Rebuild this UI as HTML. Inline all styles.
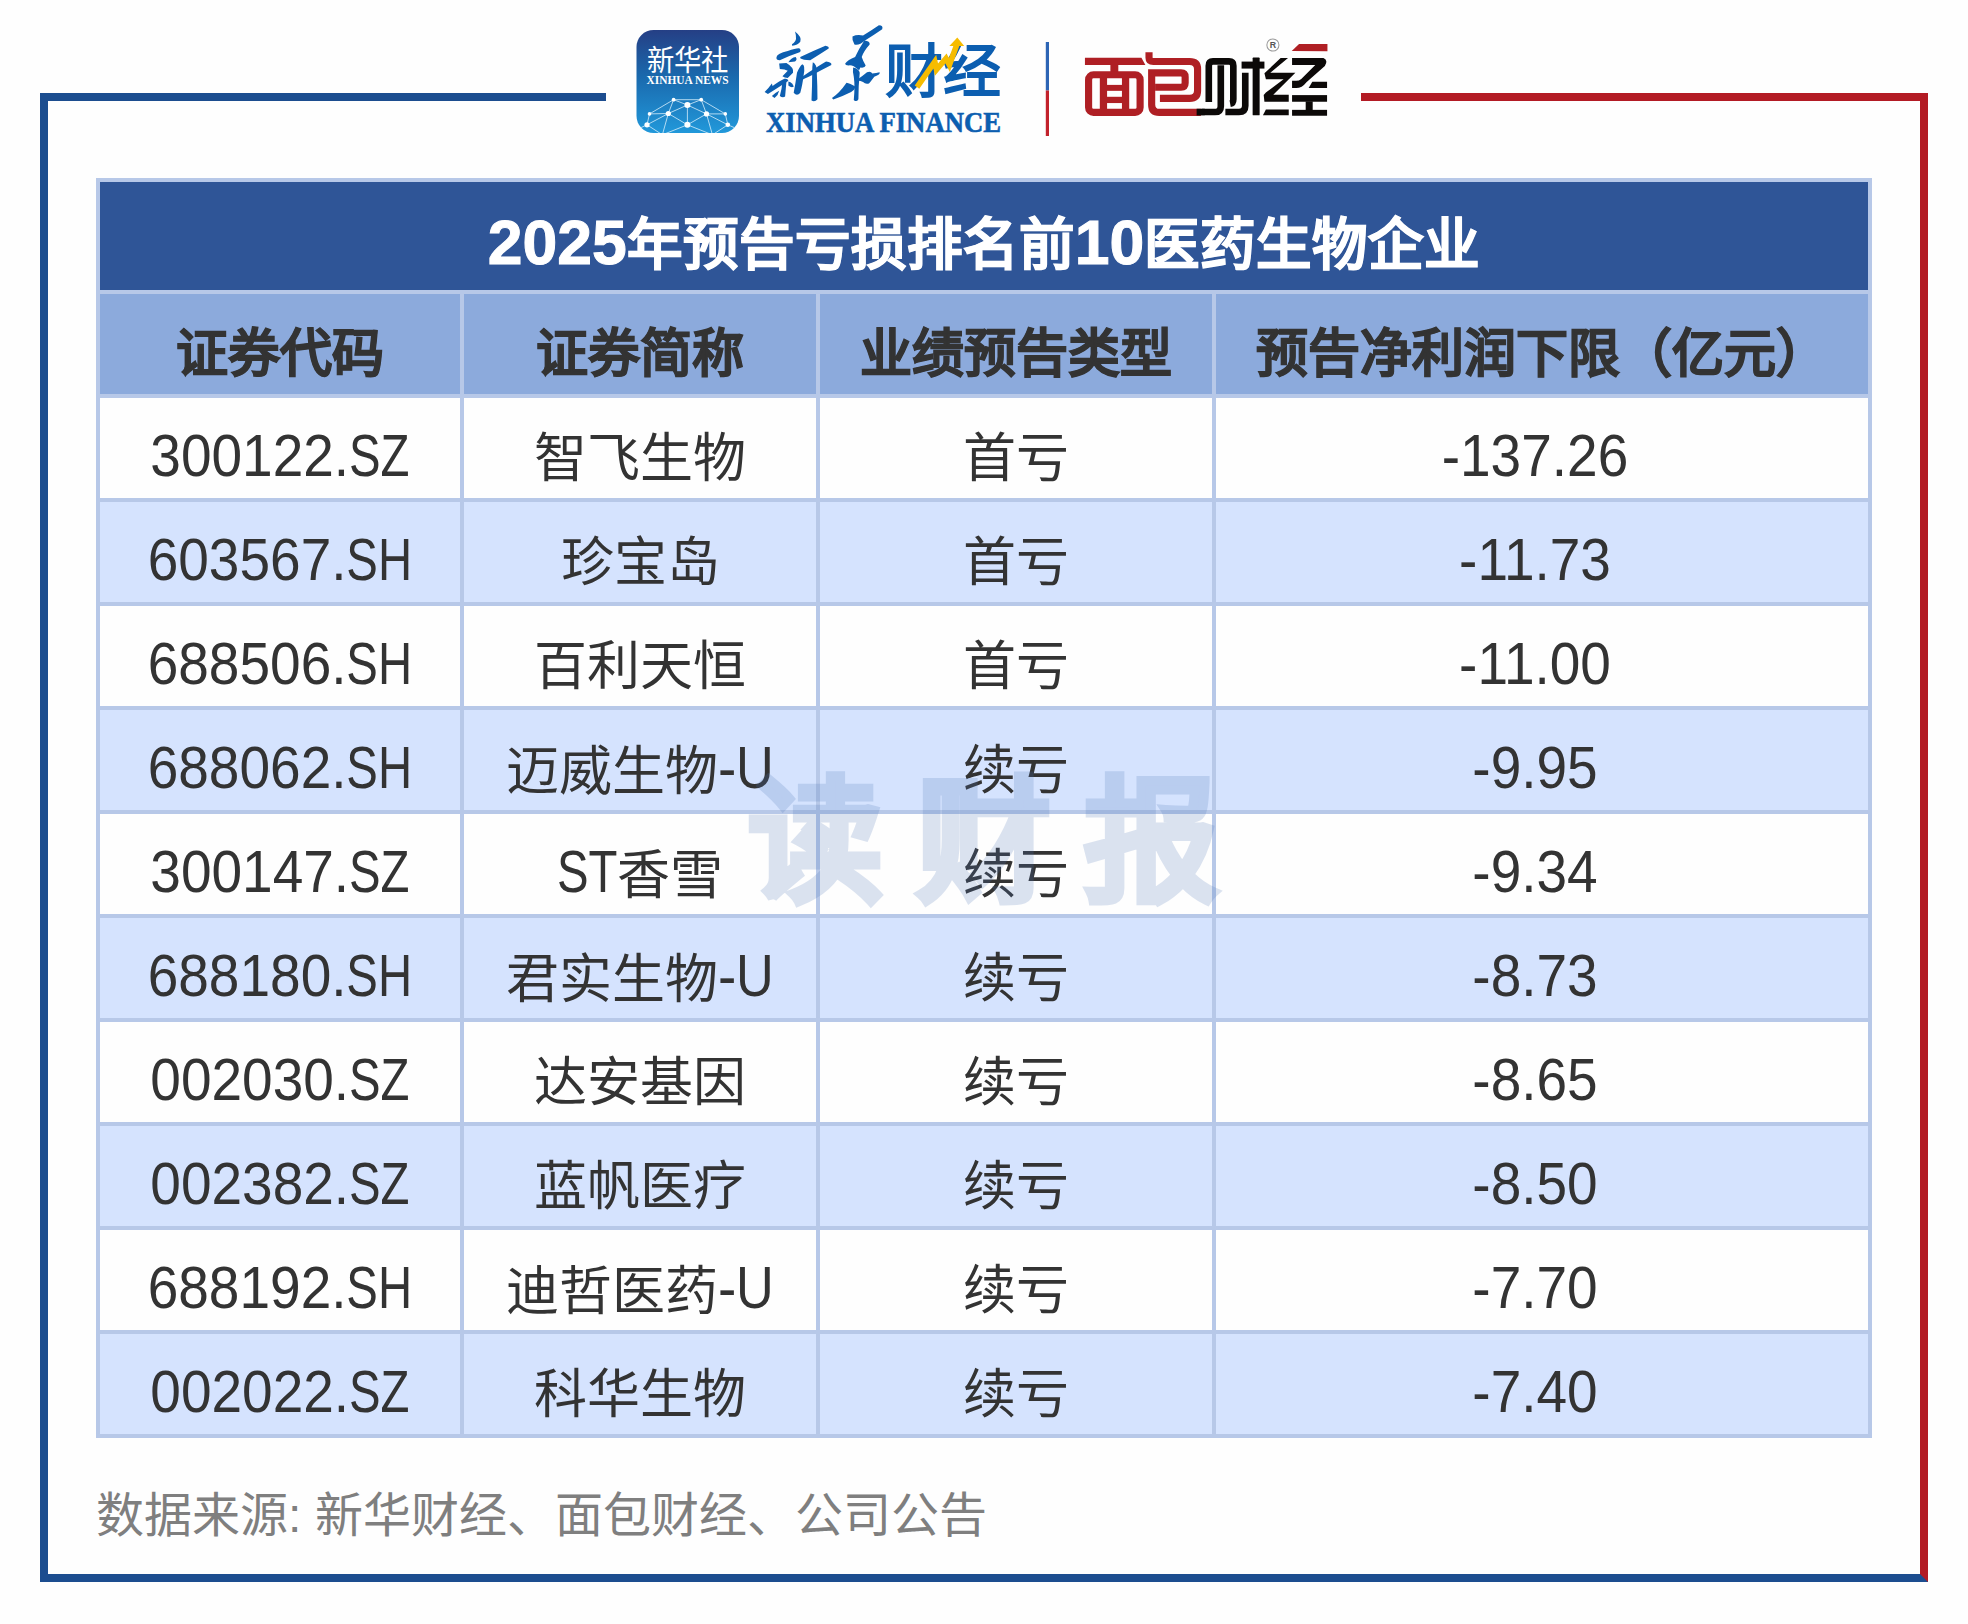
<!DOCTYPE html>
<html lang="zh-CN">
<head>
<meta charset="utf-8">
<style>
html,body{margin:0;padding:0;background:#fefefe;}
body{width:1968px;height:1624px;position:relative;overflow:hidden;font-family:"Liberation Sans",sans-serif;}
.abs{position:absolute;}
.fr{position:absolute;}
.bg{position:absolute;}
.tx{position:absolute;white-space:nowrap;text-align:center;color:#333;line-height:100px;height:100px;}
.C{font-size:53px;position:relative;top:2px;}
.A{font-size:55px;display:inline-block;transform:scaleY(1.07);transform-origin:50% 69px;}
.L{font-size:55px;display:inline-block;transform:scale(0.86,1.07);transform-origin:50% 69px;}
#src{left:96px;top:1466px;font-size:48px;line-height:100px;color:#7f7f7f;white-space:nowrap;}
#wm{left:748px;top:744px;font-size:135px;line-height:200px;font-weight:900;color:#4f77b8;-webkit-text-stroke:5px #4f77b8;opacity:0.2;letter-spacing:33px;white-space:nowrap;}
</style>
</head>
<body>
<div class="fr" style="left:40px;top:93px;width:566px;height:8px;background:#1c4d8f"></div>
<div class="fr" style="left:1361px;top:93px;width:567px;height:8px;background:#b31b24"></div>
<div class="fr" style="left:40px;top:93px;width:8px;height:1489px;background:#1c4d8f"></div>
<div class="fr" style="left:40px;top:1574px;width:1888px;height:8px;background:#1c4d8f"></div>
<div class="fr" style="left:1920px;top:93px;width:8px;height:1489px;background:#b31b24;clip-path:polygon(0 0,100% 0,100% 100%,0 calc(100% - 8px))"></div>
<div class="bg" style="left:96px;top:178px;width:1776px;height:1260px;background:#b7c8e8"></div>
<div class="bg" style="left:100px;top:182px;width:1768px;height:108px;background:#2f5597"></div>
<div class="bg" style="left:100px;top:294px;width:360px;height:100px;background:#8caadc"></div>
<div class="bg" style="left:464px;top:294px;width:352px;height:100px;background:#8caadc"></div>
<div class="bg" style="left:820px;top:294px;width:392px;height:100px;background:#8caadc"></div>
<div class="bg" style="left:1216px;top:294px;width:652px;height:100px;background:#8caadc"></div>
<div class="bg" style="left:100px;top:398px;width:360px;height:100px;background:#fefefe"></div>
<div class="bg" style="left:464px;top:398px;width:352px;height:100px;background:#fefefe"></div>
<div class="bg" style="left:820px;top:398px;width:392px;height:100px;background:#fefefe"></div>
<div class="bg" style="left:1216px;top:398px;width:652px;height:100px;background:#fefefe"></div>
<div class="bg" style="left:100px;top:502px;width:360px;height:100px;background:#d5e3fe"></div>
<div class="bg" style="left:464px;top:502px;width:352px;height:100px;background:#d5e3fe"></div>
<div class="bg" style="left:820px;top:502px;width:392px;height:100px;background:#d5e3fe"></div>
<div class="bg" style="left:1216px;top:502px;width:652px;height:100px;background:#d5e3fe"></div>
<div class="bg" style="left:100px;top:606px;width:360px;height:100px;background:#fefefe"></div>
<div class="bg" style="left:464px;top:606px;width:352px;height:100px;background:#fefefe"></div>
<div class="bg" style="left:820px;top:606px;width:392px;height:100px;background:#fefefe"></div>
<div class="bg" style="left:1216px;top:606px;width:652px;height:100px;background:#fefefe"></div>
<div class="bg" style="left:100px;top:710px;width:360px;height:100px;background:#d5e3fe"></div>
<div class="bg" style="left:464px;top:710px;width:352px;height:100px;background:#d5e3fe"></div>
<div class="bg" style="left:820px;top:710px;width:392px;height:100px;background:#d5e3fe"></div>
<div class="bg" style="left:1216px;top:710px;width:652px;height:100px;background:#d5e3fe"></div>
<div class="bg" style="left:100px;top:814px;width:360px;height:100px;background:#fefefe"></div>
<div class="bg" style="left:464px;top:814px;width:352px;height:100px;background:#fefefe"></div>
<div class="bg" style="left:820px;top:814px;width:392px;height:100px;background:#fefefe"></div>
<div class="bg" style="left:1216px;top:814px;width:652px;height:100px;background:#fefefe"></div>
<div class="bg" style="left:100px;top:918px;width:360px;height:100px;background:#d5e3fe"></div>
<div class="bg" style="left:464px;top:918px;width:352px;height:100px;background:#d5e3fe"></div>
<div class="bg" style="left:820px;top:918px;width:392px;height:100px;background:#d5e3fe"></div>
<div class="bg" style="left:1216px;top:918px;width:652px;height:100px;background:#d5e3fe"></div>
<div class="bg" style="left:100px;top:1022px;width:360px;height:100px;background:#fefefe"></div>
<div class="bg" style="left:464px;top:1022px;width:352px;height:100px;background:#fefefe"></div>
<div class="bg" style="left:820px;top:1022px;width:392px;height:100px;background:#fefefe"></div>
<div class="bg" style="left:1216px;top:1022px;width:652px;height:100px;background:#fefefe"></div>
<div class="bg" style="left:100px;top:1126px;width:360px;height:100px;background:#d5e3fe"></div>
<div class="bg" style="left:464px;top:1126px;width:352px;height:100px;background:#d5e3fe"></div>
<div class="bg" style="left:820px;top:1126px;width:392px;height:100px;background:#d5e3fe"></div>
<div class="bg" style="left:1216px;top:1126px;width:652px;height:100px;background:#d5e3fe"></div>
<div class="bg" style="left:100px;top:1230px;width:360px;height:100px;background:#fefefe"></div>
<div class="bg" style="left:464px;top:1230px;width:352px;height:100px;background:#fefefe"></div>
<div class="bg" style="left:820px;top:1230px;width:392px;height:100px;background:#fefefe"></div>
<div class="bg" style="left:1216px;top:1230px;width:652px;height:100px;background:#fefefe"></div>
<div class="bg" style="left:100px;top:1334px;width:360px;height:100px;background:#d5e3fe"></div>
<div class="bg" style="left:464px;top:1334px;width:352px;height:100px;background:#d5e3fe"></div>
<div class="bg" style="left:820px;top:1334px;width:392px;height:100px;background:#d5e3fe"></div>
<div class="bg" style="left:1216px;top:1334px;width:652px;height:100px;background:#d5e3fe"></div>
<div class="tx" style="left:100px;top:188px;width:1768px;height:108px;line-height:108px;color:#fff;-webkit-text-stroke:1px #fff;font-weight:bold;font-size:55.5px"><span style="font-size:62.5px">2025</span>年预告亏损排名前<span style="font-size:62.5px">10</span>医药生物企业</div>
<div class="tx" style="left:100px;top:304px;width:360px;-webkit-text-stroke:1px #333;font-weight:bold;font-size:52px">证券代码</div>
<div class="tx" style="left:464px;top:304px;width:352px;-webkit-text-stroke:1px #333;font-weight:bold;font-size:52px">证券简称</div>
<div class="tx" style="left:820px;top:304px;width:392px;-webkit-text-stroke:1px #333;font-weight:bold;font-size:52px">业绩预告类型</div>
<div class="tx" style="left:1216px;top:304px;width:652px;-webkit-text-stroke:1px #333;font-weight:bold;font-size:52px">预告净利润下限（亿元）</div>
<div class="tx" style="left:100px;top:407px;width:360px"><span class="A">300122.</span><span class="L" style="margin:0 -4.9px;transform:scale(0.86,1.07)">SZ</span></div>
<div class="tx" style="left:464px;top:407px;width:352px"><span class="C">智飞生物</span></div>
<div class="tx" style="left:820px;top:407px;width:392px"><span class="C">首亏</span></div>
<div class="tx" style="left:1209px;top:407px;width:652px"><span class="A">-137.26</span></div>
<div class="tx" style="left:100px;top:511px;width:360px"><span class="A">603567.</span><span class="L" style="margin:0 -5.3px;transform:scale(0.86,1.07)">SH</span></div>
<div class="tx" style="left:464px;top:511px;width:352px"><span class="C">珍宝岛</span></div>
<div class="tx" style="left:820px;top:511px;width:392px"><span class="C">首亏</span></div>
<div class="tx" style="left:1209px;top:511px;width:652px"><span class="A">-11.73</span></div>
<div class="tx" style="left:100px;top:615px;width:360px"><span class="A">688506.</span><span class="L" style="margin:0 -5.3px;transform:scale(0.86,1.07)">SH</span></div>
<div class="tx" style="left:464px;top:615px;width:352px"><span class="C">百利天恒</span></div>
<div class="tx" style="left:820px;top:615px;width:392px"><span class="C">首亏</span></div>
<div class="tx" style="left:1209px;top:615px;width:652px"><span class="A">-11.00</span></div>
<div class="tx" style="left:100px;top:719px;width:360px"><span class="A">688062.</span><span class="L" style="margin:0 -5.3px;transform:scale(0.86,1.07)">SH</span></div>
<div class="tx" style="left:464px;top:719px;width:352px"><span class="C">迈威生物</span><span class="A">-</span><span class="L" style="margin:0 -1.0px;transform:scale(0.95,1.07)">U</span></div>
<div class="tx" style="left:820px;top:719px;width:392px"><span class="C">续亏</span></div>
<div class="tx" style="left:1209px;top:719px;width:652px"><span class="A">-9.95</span></div>
<div class="tx" style="left:100px;top:823px;width:360px"><span class="A">300147.</span><span class="L" style="margin:0 -4.9px;transform:scale(0.86,1.07)">SZ</span></div>
<div class="tx" style="left:464px;top:823px;width:352px"><span class="L" style="margin:0 -4.9px;transform:scale(0.86,1.07)">ST</span><span class="C">香雪</span></div>
<div class="tx" style="left:820px;top:823px;width:392px"><span class="C">续亏</span></div>
<div class="tx" style="left:1209px;top:823px;width:652px"><span class="A">-9.34</span></div>
<div class="tx" style="left:100px;top:927px;width:360px"><span class="A">688180.</span><span class="L" style="margin:0 -5.3px;transform:scale(0.86,1.07)">SH</span></div>
<div class="tx" style="left:464px;top:927px;width:352px"><span class="C">君实生物</span><span class="A">-</span><span class="L" style="margin:0 -1.0px;transform:scale(0.95,1.07)">U</span></div>
<div class="tx" style="left:820px;top:927px;width:392px"><span class="C">续亏</span></div>
<div class="tx" style="left:1209px;top:927px;width:652px"><span class="A">-8.73</span></div>
<div class="tx" style="left:100px;top:1031px;width:360px"><span class="A">002030.</span><span class="L" style="margin:0 -4.9px;transform:scale(0.86,1.07)">SZ</span></div>
<div class="tx" style="left:464px;top:1031px;width:352px"><span class="C">达安基因</span></div>
<div class="tx" style="left:820px;top:1031px;width:392px"><span class="C">续亏</span></div>
<div class="tx" style="left:1209px;top:1031px;width:652px"><span class="A">-8.65</span></div>
<div class="tx" style="left:100px;top:1135px;width:360px"><span class="A">002382.</span><span class="L" style="margin:0 -4.9px;transform:scale(0.86,1.07)">SZ</span></div>
<div class="tx" style="left:464px;top:1135px;width:352px"><span class="C">蓝帆医疗</span></div>
<div class="tx" style="left:820px;top:1135px;width:392px"><span class="C">续亏</span></div>
<div class="tx" style="left:1209px;top:1135px;width:652px"><span class="A">-8.50</span></div>
<div class="tx" style="left:100px;top:1239px;width:360px"><span class="A">688192.</span><span class="L" style="margin:0 -5.3px;transform:scale(0.86,1.07)">SH</span></div>
<div class="tx" style="left:464px;top:1239px;width:352px"><span class="C">迪哲医药</span><span class="A">-</span><span class="L" style="margin:0 -1.0px;transform:scale(0.95,1.07)">U</span></div>
<div class="tx" style="left:820px;top:1239px;width:392px"><span class="C">续亏</span></div>
<div class="tx" style="left:1209px;top:1239px;width:652px"><span class="A">-7.70</span></div>
<div class="tx" style="left:100px;top:1343px;width:360px"><span class="A">002022.</span><span class="L" style="margin:0 -4.9px;transform:scale(0.86,1.07)">SZ</span></div>
<div class="tx" style="left:464px;top:1343px;width:352px"><span class="C">科华生物</span></div>
<div class="tx" style="left:820px;top:1343px;width:392px"><span class="C">续亏</span></div>
<div class="tx" style="left:1209px;top:1343px;width:652px"><span class="A">-7.40</span></div>
<div class="abs" id="src">数据来源: 新华财经、面包财经、公司公告</div>
<div class="abs" id="wm">读财报</div>
<svg class="abs" style="left:0;top:0" width="1968" height="160" viewBox="0 0 1968 160">
<defs>
<linearGradient id="xg" x1="0" y1="0" x2="0" y2="1">
<stop offset="0" stop-color="#253f85"/>
<stop offset="0.45" stop-color="#1a69ad"/>
<stop offset="1" stop-color="#2198da"/>
</linearGradient>
<clipPath id="xclip"><rect x="636.5" y="30" width="102.5" height="103" rx="17" ry="17"/></clipPath>
</defs>
<!-- Xinhua news icon -->
<rect x="636.5" y="30" width="102.5" height="103" rx="17" ry="17" fill="url(#xg)"/>
<g clip-path="url(#xclip)"><g transform="translate(636.4,29.8)" stroke="#d5ecfa" stroke-width="0.9" fill="none" opacity="0.9">
<path d="M37.2,69.9 L64.8,69.9 M37.2,69.9 L51,75.2 L64.8,69.9 M37.2,69.9 L13.1,84.1 M64.8,69.9 L88.9,84.1 M37.2,69.9 L31.9,83.7 M64.8,69.9 L70.1,84.1 M51,75.2 L31.9,83.7 M51,75.2 L70.1,84.1 M51,75.2 L51,95 M13.1,84.1 L31.9,83.7 M70.1,84.1 L88.9,84.1 M13.1,84.1 L10.6,95 M88.9,84.1 L91.4,95 M31.9,83.7 L10.6,95 M31.9,83.7 L51,95 M70.1,84.1 L51,95 M70.1,84.1 L91.4,95 M31.9,83.7 L26,105 M70.1,84.1 L76,105 M10.6,95 L26,105 M51,95 L26,105 M51,95 L76,105 M91.4,95 L76,105 M10.6,95 L0,100 M91.4,95 L103,100"/>
</g></g>
<g transform="translate(636.4,29.8)" fill="#ffffff">
<circle cx="37.2" cy="69.9" r="1.9"/><circle cx="64.8" cy="69.9" r="1.9"/>
<circle cx="51" cy="75.2" r="3"/>
<circle cx="13.1" cy="84.1" r="1.8"/><circle cx="31.9" cy="83.7" r="2.6"/><circle cx="70.1" cy="84.1" r="2.6"/><circle cx="88.9" cy="84.1" r="1.8"/>
<circle cx="10.6" cy="95" r="2.6"/><circle cx="51" cy="95" r="3"/><circle cx="91.4" cy="95" r="2.3"/>
</g>
<text x="687.5" y="70.5" fill="#ffffff" font-family="Liberation Sans, sans-serif" font-size="29" font-weight="400" text-anchor="middle" textLength="82" lengthAdjust="spacingAndGlyphs">新华社</text>
<text x="687.5" y="83.8" fill="#ffffff" font-family="Liberation Serif, serif" font-size="11.5" font-weight="bold" text-anchor="middle" textLength="82" lengthAdjust="spacingAndGlyphs">XINHUA NEWS</text>

<!-- Xinhua finance -->
<g fill="#0c5eb0">
<g transform="translate(760,20) scale(0.06605)" fill="#0c5eb0">
<path d="M530,175 Q640,260 610,330 Q570,380 490,390 Q470,370 510,350 Q570,300 530,175 Z"/>
<path d="M250,560 Q260,510 420,470 Q560,420 600,430 Q630,460 600,490 Q450,540 300,610 Q240,610 250,560 Z"/>
<path d="M430,640 Q470,570 540,560 Q570,600 530,630 Z"/>
<path d="M290,660 L400,650 Q520,720 500,800 L420,880 Q370,870 340,850 L420,770 Q380,740 300,740 Z"/>
<path d="M70,1090 Q130,1030 180,960 L190,1000 Q300,920 370,890 Q420,880 430,920 Q300,1010 120,1120 Z"/>
<path d="M340,940 L400,930 Q390,1050 380,1160 Q340,1180 300,1150 Q330,1050 340,940 Z"/>
<path d="M180,1150 Q230,1100 290,1070 Q280,1130 220,1180 Z"/>
<path d="M430,930 Q500,950 510,1010 Q470,1030 430,990 Z"/>
<path d="M610,560 Q800,470 990,390 Q1050,400 1040,430 Q900,520 760,610 Q650,610 610,580 Z"/>
<path d="M640,670 Q690,680 660,840 Q640,1000 610,1100 Q560,1160 510,1100 Q540,950 560,800 Q600,700 640,670 Z"/>
<path d="M650,850 Q850,720 1000,630 Q1090,640 1080,680 Q920,760 800,830 Q700,880 650,900 Z"/>
<path d="M800,640 Q860,660 860,800 Q870,1000 870,1200 Q830,1250 780,1220 Q790,1000 790,800 Q790,700 800,640 Z"/>
<path d="M1400,250 Q1470,215 1560,235 Q1700,150 1800,80 Q1870,80 1850,140 Q1720,230 1590,310 Q1500,390 1430,370 Q1390,310 1400,250 Z"/>
<path d="M1580,310 Q1670,320 1660,370 Q1570,470 1540,560 Q1560,620 1600,690 Q1590,730 1520,720 L1500,760 Q1450,720 1420,700 Q1370,680 1340,690 Q1290,690 1290,660 Q1330,600 1440,560 Q1500,430 1580,310 Z"/>
<path d="M1410,720 Q1500,740 1510,800 Q1490,1000 1490,1200 Q1460,1250 1420,1210 Q1440,1000 1420,860 Q1400,780 1410,720 Z"/>
<path d="M1490,890 Q1560,840 1620,790 Q1680,770 1700,810 Q1760,800 1810,790 Q1830,820 1730,860 Q1680,930 1650,960 Q1600,980 1560,940 Q1520,920 1490,920 Z"/>
<path d="M1090,1180 Q1200,1110 1310,950 Q1360,960 1450,1010 Q1430,1060 1380,1090 Q1240,1160 1110,1205 Z"/>
</g>
<text x="885" y="92" font-family="Liberation Sans, sans-serif" font-size="58" font-weight="bold">财经</text>
<text x="766" y="132" font-family="Liberation Serif, serif" font-size="28.5" font-weight="bold" stroke="#0c5eb0" stroke-width="0.6" textLength="235" lengthAdjust="spacingAndGlyphs">XINHUA FINANCE</text>
</g>
<polyline points="917,87.1 934.8,61.7 936.5,69.6 946,58.4 949.4,65 956.6,45.2" fill="none" stroke="#f6bc00" stroke-width="5.6" stroke-linejoin="miter" stroke-miterlimit="3"/><polygon points="949.4,45.9 957.3,37.6 964.2,45.9" fill="#f6bc00"/>

<!-- divider -->
<rect x="1045.8" y="42" width="3.2" height="48.5" fill="#2d65b5"/>
<rect x="1045.8" y="90.5" width="3.2" height="45.5" fill="#c2222c"/>

<!-- Mianbao caijing -->
<g transform="translate(1080,38) scale(0.06605)">
<g fill="#af1f24">
<polygon points="75,300 930,300 990,410 75,410"/>
<rect x="460" y="405" width="120" height="110"/>
<rect x="130" y="557" width="780" height="570" rx="75" ry="75" fill="none" stroke="#af1f24" stroke-width="108"/>
<rect x="300" y="600" width="110" height="490"/>
<rect x="635" y="600" width="110" height="490"/>
<rect x="405" y="710" width="235" height="90"/>
<rect x="405" y="890" width="235" height="95"/>
</g>
<g fill="none" stroke="#af1f24" stroke-width="108" stroke-linejoin="miter">
<path d="M1045,215 L1045,300 Q1045,355 1110,355 L1660,355 Q1780,355 1780,470 L1780,800 Q1780,915 1660,915 L1210,915"/>
<path d="M1140,745 L1530,745 Q1592,745 1592,683 L1592,590 Q1592,527 1530,527 L1085,527 L1085,1010 Q1085,1127 1200,1127 L1830,1127" stroke-linejoin="miter"/>
</g>
</g>
<g transform="translate(1190,38) scale(0.07369)">
<g fill="none" stroke="#0c0908" stroke-width="90">
<path d="M255,870 L255,375 Q255,318 312,318 L530,318 Q588,318 588,375 L588,830 Q588,885 545,893"/>
<path d="M418,370 L418,925 Q418,1005 338,1005 L90,1005"/>
<path d="M750,470 L750,920 Q750,1005 665,1005 L480,1005"/>
</g>
<g fill="#0c0908">
<polygon points="160,960 200,960 200,1050 90,1050"/>
<rect x="700" y="320" width="310" height="95"/>
<rect x="850" y="265" width="95" height="785" rx="10"/>
<polygon points="1230,270 1330,270 1090,470 1430,470 1130,770 1340,770 1340,865 1010,865 1000,775 1030,740 1270,560 1030,560 1010,480"/>
<polygon points="1030,970 1340,970 1340,1050 990,1050"/>
<path d="M1385,270 L1810,270 Q1880,300 1830,380 L1580,600 Q1520,680 1440,680 L1385,680 L1385,580 L1440,580 Q1480,580 1510,555 L1700,365 L1385,365 Z"/>
<polygon points="1660,595 1860,595 1860,680 1610,680"/>
<rect x="1385" y="775" width="475" height="90"/>
<rect x="1570" y="860" width="95" height="120"/>
<rect x="1385" y="975" width="475" height="80"/>
</g>
<polygon points="1380,175 1480,80 1865,80 1865,180" fill="#af1f24"/>
<circle cx="1125" cy="95" r="82" fill="none" stroke="#9a9a9a" stroke-width="14"/>
<text x="1125" y="140" font-family="Liberation Sans, sans-serif" font-size="120" font-weight="bold" fill="#555" text-anchor="middle">R</text>
</g>
</svg>

</body>
</html>
